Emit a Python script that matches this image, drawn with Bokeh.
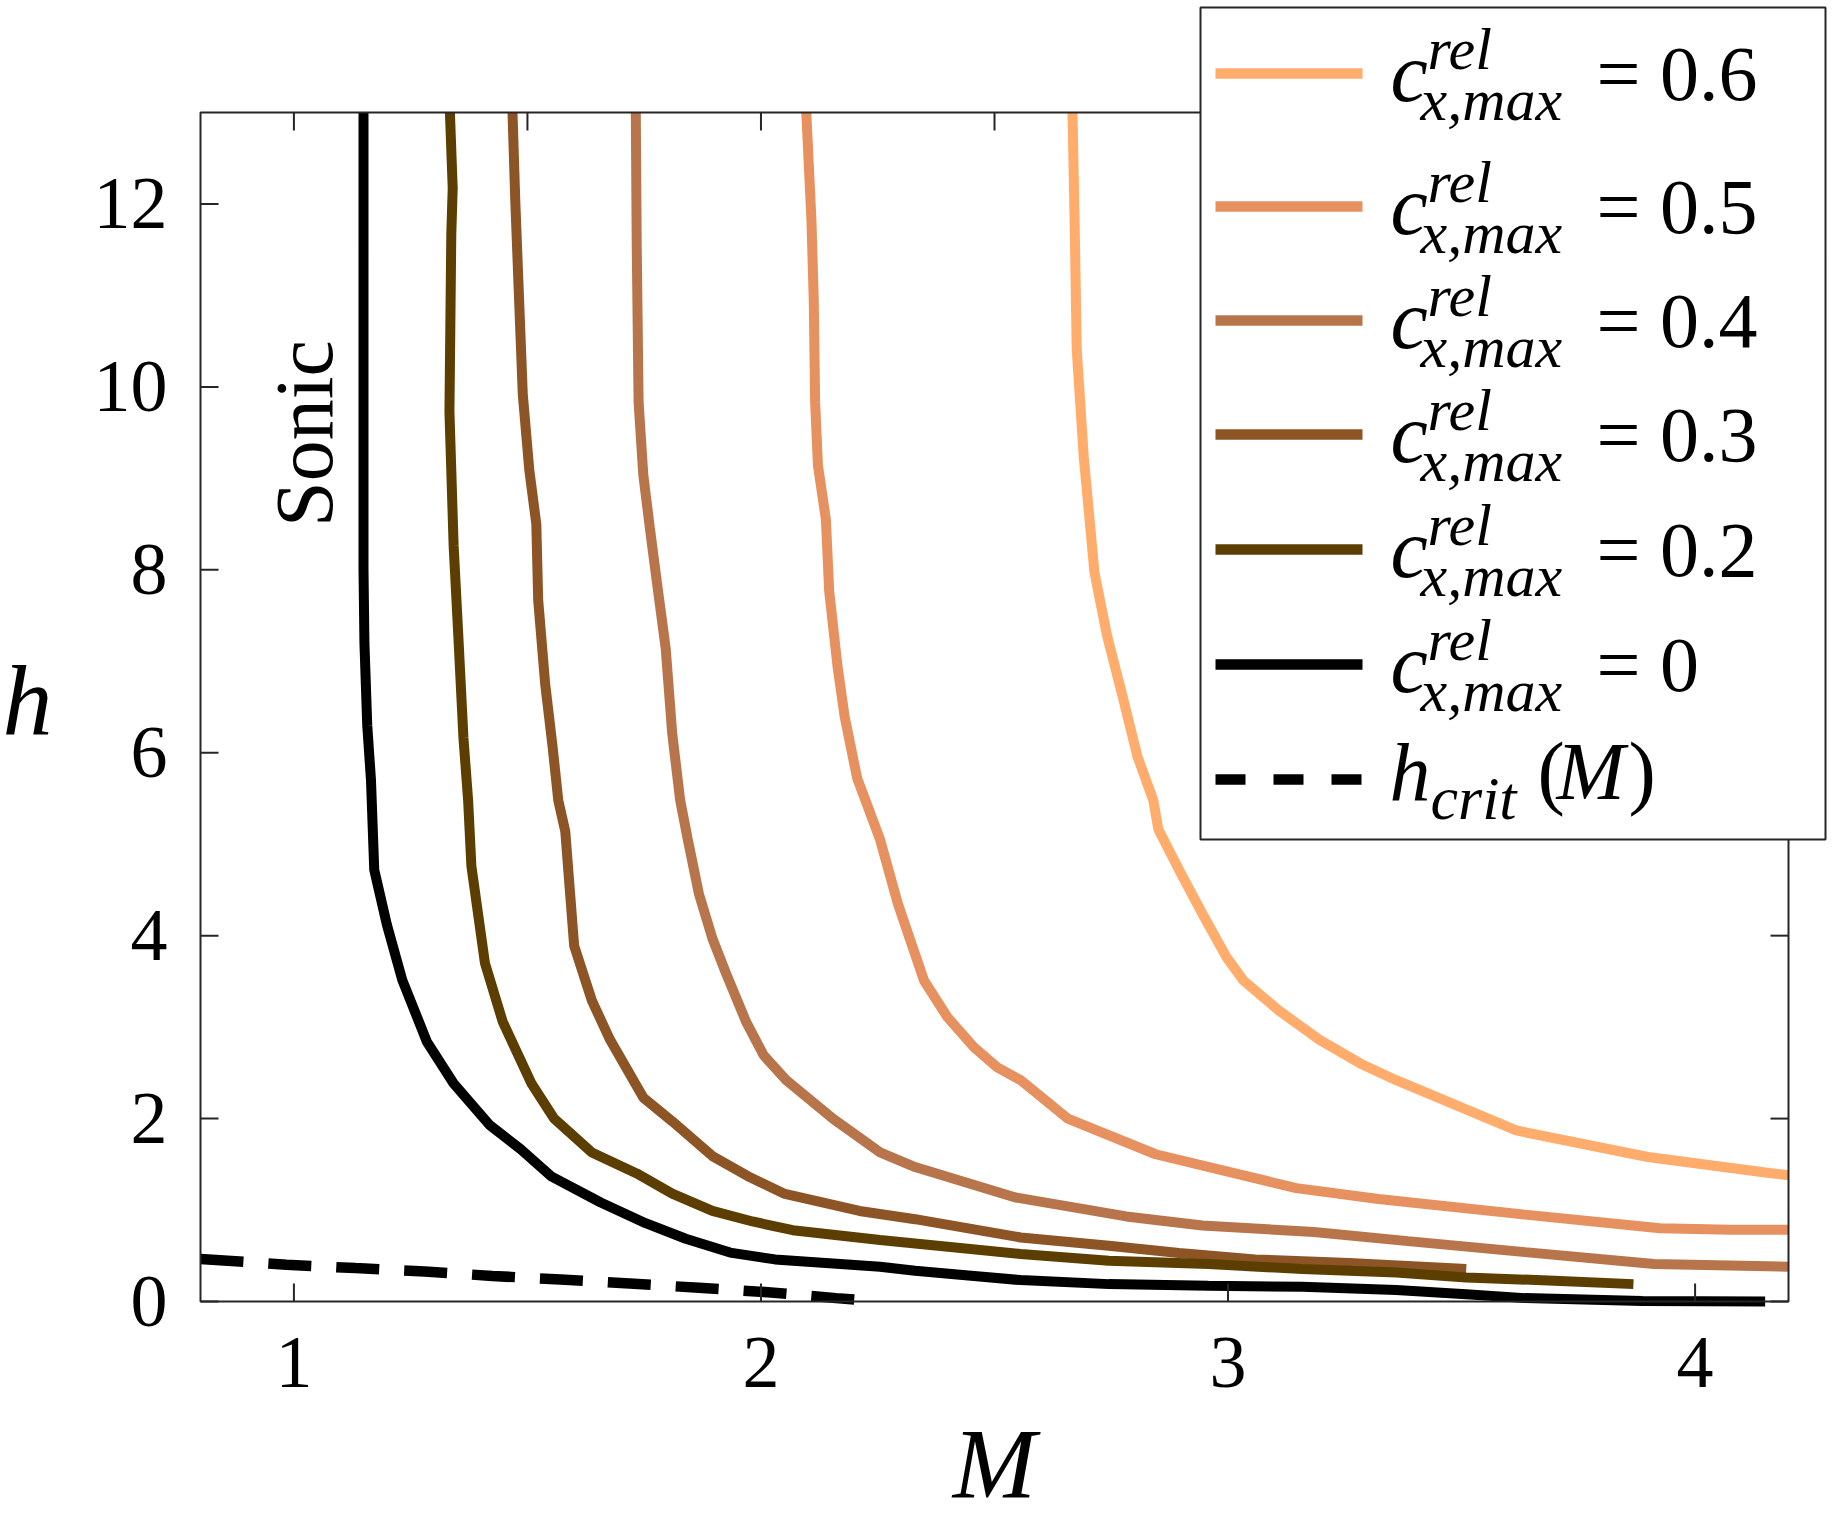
import numpy as np
from bokeh.plotting import figure
from bokeh.models import Range1d
from bokeh.core.properties import value
from bokeh.embed import file_html
from bokeh.resources import INLINE

# curves: Mach number M vs height h
m_c06 = [2.667, 2.672, 2.676, 2.691, 2.699, 2.714, 2.741, 2.775, 2.806, 2.84, 2.851, 2.895,
         2.945, 2.996, 3.033, 3.109, 3.196, 3.284, 3.36, 3.617, 3.899, 4.15, 4.2]
h_c06 = [13.0, 11.68, 10.41, 9.24, 8.8, 7.97, 7.28, 6.6, 5.96, 5.48, 5.16, 4.72,
         4.24, 3.77, 3.51, 3.18, 2.86, 2.6, 2.42, 1.87, 1.58, 1.41, 1.38]

m_c05 = [2.097, 2.108, 2.113, 2.116, 2.122, 2.139, 2.146, 2.164, 2.179, 2.206, 2.255, 2.293,
         2.349, 2.399, 2.456, 2.506, 2.556, 2.657, 2.845, 3.146, 3.322, 3.636, 3.925, 4.075, 4.2]
h_c05 = [13.0, 11.83, 10.95, 9.83, 9.14, 8.55, 7.77, 6.94, 6.4, 5.72, 5.05, 4.35,
         3.51, 3.11, 2.78, 2.56, 2.42, 2.0, 1.61, 1.24, 1.12, 0.95, 0.80, 0.785, 0.785]

m_c04 = [1.732, 1.734, 1.738, 1.748, 1.762, 1.777, 1.796, 1.810, 1.827, 1.843, 1.867, 1.896,
         1.925, 1.968, 2.006, 2.054, 2.154, 2.255, 2.33, 2.543, 2.782, 2.945, 3.184, 3.385,
         3.636, 3.912, 4.2]
h_c04 = [13.0, 11.54, 9.83, 9.04, 8.46, 7.87, 7.14, 6.21, 5.48, 5.06, 4.46, 3.97,
         3.59, 3.06, 2.69, 2.42, 2.0, 1.63, 1.47, 1.14, 0.93, 0.83, 0.76, 0.66,
         0.54, 0.41, 0.38]

m_c03 = [1.468, 1.474, 1.481, 1.490, 1.504, 1.519, 1.523, 1.538, 1.554, 1.566, 1.581, 1.600,
         1.638, 1.676, 1.748, 1.810, 1.896, 1.972, 2.049, 2.211, 2.33, 2.556, 2.745, 2.895,
         3.058, 3.259, 3.51]
h_c03 = [13.0, 12.03, 11.1, 9.92, 9.09, 8.5, 7.67, 6.75, 6.06, 5.48, 5.14, 3.89,
         3.29, 2.87, 2.23, 1.97, 1.59, 1.37, 1.18, 0.99, 0.90, 0.70, 0.61, 0.53,
         0.46, 0.42, 0.355]

m_c02 = [1.334, 1.340, 1.337, 1.333, 1.342, 1.352, 1.363, 1.373, 1.380, 1.409, 1.447, 1.509,
         1.557, 1.638, 1.734, 1.810, 1.896, 1.982, 2.068, 2.255, 2.556, 2.745, 2.958, 3.159,
         3.36, 3.51, 3.699, 3.868]
h_c02 = [13.0, 12.17, 11.68, 9.73, 8.26, 7.28, 6.16, 5.48, 4.76, 3.70, 3.06, 2.38,
         2.0, 1.63, 1.40, 1.18, 0.99, 0.875, 0.78, 0.672, 0.519, 0.446, 0.409, 0.355,
         0.318, 0.263, 0.227, 0.19]

m_c00 = [1.149, 1.149, 1.151, 1.157, 1.165, 1.172, 1.199, 1.232, 1.285, 1.342, 1.419, 1.485,
         1.552, 1.657, 1.753, 1.839, 1.934, 2.030, 2.255, 2.33, 2.556, 2.745, 2.958, 3.159,
         3.36, 3.51, 3.636, 3.887, 4.15]
h_c00 = [13.0, 8.0, 7.2, 6.3, 5.7, 4.72, 4.12, 3.515, 2.837, 2.384, 1.93, 1.667,
         1.365, 1.082, 0.856, 0.686, 0.535, 0.46, 0.38, 0.336, 0.234, 0.19, 0.172, 0.161,
         0.125, 0.08, 0.037, 0.005, 0.0]

m_crit = [0.8, 0.984, 1.132, 1.280, 1.425, 1.571, 1.719, 1.867, 2.015, 2.161, 2.207]
h_crit = [0.465, 0.403, 0.365, 0.328, 0.279, 0.241, 0.196, 0.150, 0.101, 0.037, 0.02]

c_values = ["0.6", "0.5", "0.4", "0.3", "0.2", "0"]
colors = ["#FFAC6C", "#E6915F", "#B8754B", "#8D5426", "#5C3F00", "#000000"]
series = [(m_c06, h_c06), (m_c05, h_c05), (m_c04, h_c04), (m_c03, h_c03),
          (m_c02, h_c02), (m_c00, h_c00)]

x_ticks_bottom = [1, 2, 3, 4]
x_ticks_top = [1, 1.5, 2, 2.5, 3, 3.5, 4]
y_ticks = [0, 2, 4, 6, 8, 10, 12]

FONT = "Liberation Serif"
AXC = "#262626"

# page layout in pixels; the axes box is drawn by hand so that the legend
# and the titles can sit outside it
W, H = 1827, 1520
PX_L, PX_R, PX_T, PX_B = 200, 1788, 112, 1301
X0, X1, Y0, Y1 = 0.8, 4.2, 0.0, 13.0
kx = (X1 - X0) / (PX_R - PX_L)
ky = (Y1 - Y0) / (PX_B - PX_T)


def px2x(px):
    return X0 + (px - PX_L) * kx


def px2y(py):
    return Y0 + (PX_B - py) * ky


p = figure(width=W, height=H,
           x_range=Range1d(px2x(0), px2x(W)), y_range=Range1d(px2y(H), px2y(0)),
           x_axis_type=None, y_axis_type=None, min_border=0,
           output_backend="svg", toolbar_location=None)
p.grid.visible = False
p.outline_line_color = None
p.background_fill_color = "white"
p.border_fill_color = "white"

# curves
for (mx, hy), col in zip(series, colors):
    p.line(mx, hy, line_color=col, line_width=10, line_cap="butt")
p.line(m_crit, h_crit, line_color="black", line_width=10.5, line_dash="43 25")

# axes box, inward ticks, tick labels
p.quad(left=X0, right=X1, bottom=Y0, top=Y1, fill_color=None,
       line_color=AXC, line_width=2)
tick = dict(length=18, length_units="screen", line_color=AXC, line_width=2)
p.ray(x=x_ticks_bottom, y=[Y0] * len(x_ticks_bottom), angle=np.pi / 2, **tick)
p.ray(x=x_ticks_top, y=[Y1] * len(x_ticks_top), angle=-np.pi / 2, **tick)
p.ray(x=[X0] * len(y_ticks), y=y_ticks, angle=0, **tick)
p.ray(x=[X1] * len(y_ticks), y=y_ticks, angle=np.pi, **tick)

p.text(x=x_ticks_bottom, y=[Y0] * len(x_ticks_bottom),
       text=[str(t) for t in x_ticks_bottom], y_offset=36,
       text_align="center", text_baseline="top", text_color="black",
       text_font=value(FONT), text_font_size=value("74px"))
p.text(x=[X0] * len(y_ticks), y=y_ticks, text=[str(t) for t in y_ticks],
       x_offset=-33, text_align="right", text_baseline="middle",
       text_color="black", text_font=value(FONT), text_font_size=value("74px"))

# legend box and keys
row_y = [73, 206, 320, 434, 549, 664, 779]
p.quad(left=px2x(1200), right=px2x(1825), top=px2y(7), bottom=px2y(839),
       fill_color="white", line_color=AXC, line_width=2)
p.segment(x0=[px2x(1215)] * 6, x1=[px2x(1362)] * 6,
          y0=[px2y(y) for y in row_y[:6]], y1=[px2y(y) for y in row_y[:6]],
          line_color=colors, line_width=10.5, line_cap="butt")
p.segment(x0=[px2x(1215)], x1=[px2x(1362)], y0=[px2y(row_y[6])], y1=[px2y(row_y[6])],
          line_color="black", line_width=10.5, line_dash="30 28", line_cap="butt")


def label(x, baseline, text, size, italic=False, align="left", angle=0.0):
    # texts are anchored on the middle of their box: move up from the baseline
    shift = 0.3375 * size
    if angle:
        lx, ly = x - shift, baseline
    else:
        lx, ly = x, baseline - shift
    p.text(x=[px2x(lx)], y=[px2y(ly)], text=[text],
           text_font=value(FONT), text_font_size=value(f"{size}px"),
           text_font_style=value("italic" if italic else "normal"),
           text_align=align, text_baseline="middle",
           text_color="black", angle=angle)


for yc, cv in zip(row_y, c_values):
    label(1390, yc + 27, "c", 84, italic=True)
    label(1427, yc - 4, "rel", 60, italic=True)
    label(1420, yc + 47, "x,max", 60, italic=True)
    label(1596, yc + 26, "= " + cv, 78)

yc = row_y[6]
label(1389, yc + 21, "h", 82, italic=True)
label(1430, yc + 39, "crit", 62, italic=True)
label(1537, yc + 20, "(", 82)
label(1556, yc + 20, "M", 82, italic=True)
label(1628, yc + 20, ")", 82)

# axis titles
label(994, 1497, "M", 100, italic=True, align="center")
label(2, 734, "h", 100, italic=True)

# rotated note beside the sonic curve (baseline x, centre y)
label(332, 433, "Sonic", 82, align="center", angle=np.pi / 2)

open("out.html", "w").write(file_html(p, INLINE))
